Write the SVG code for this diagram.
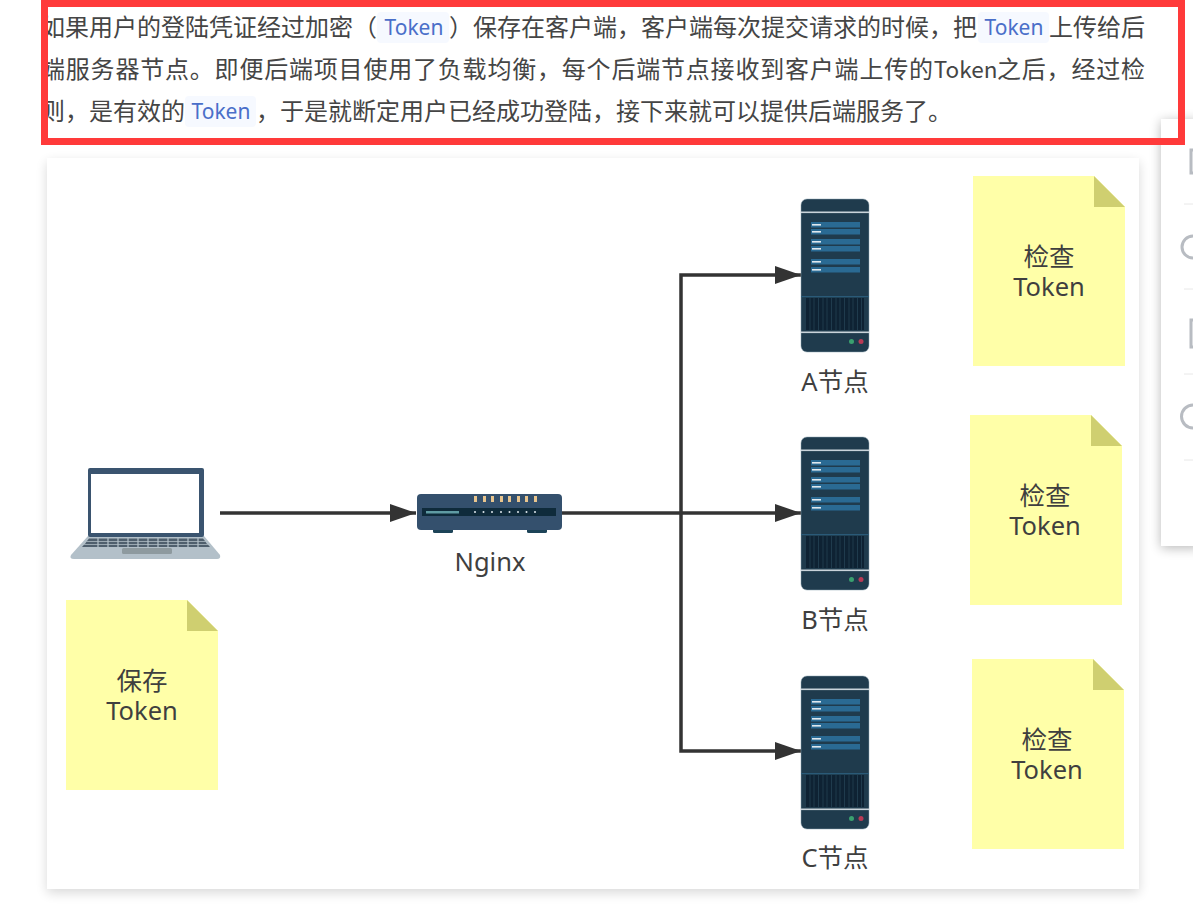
<svg xmlns="http://www.w3.org/2000/svg" width="1193" height="907" viewBox="0 0 1193 907">
<style>
.p{font:24px "Noto Sans CJK SC","Noto Sans",sans-serif;fill:#454545}
.j{letter-spacing:.8px}
.t{font-size:22.500px;letter-spacing:0}
.c{font:21px "Noto Sans","Noto Sans CJK SC",sans-serif;fill:#4a6fc9}
.cb{fill:#f6f9ff}
.l{font:25.500px "Noto Sans","Noto Sans CJK SC",sans-serif;fill:#3f3f3f;text-anchor:middle}
.note{fill:#ffffa8}
.fold{fill:#cfcf70}
.wire{fill:none;stroke:#333;stroke-width:3.500}
.div{stroke:#e8e8e8;stroke-width:1}
.ic{fill:none;stroke:#b8bcc2;stroke-width:3}
</style>
<defs>
<filter id="sh" x="-5%" y="-5%" width="110%" height="110%"><feGaussianBlur stdDeviation="6"/></filter>
<filter id="sh2" x="-100%" y="-5%" width="300%" height="110%"><feGaussianBlur stdDeviation="6"/></filter>
<marker id="arr" markerUnits="userSpaceOnUse" markerWidth="26" markerHeight="18" refX="26" refY="9" orient="auto"><path d="M0 0L26 9L0 18Z" fill="#333"/></marker>
<g id="srv">
<rect x="0" y="0" width="68" height="153" rx="6" fill="#1f3b4d" stroke="#8fa4b0" stroke-width=".5"/>
<rect x="0" y="12.500" width="68" height="1.600" fill="#c9d3da"/>
<rect x="0" y="132.500" width="68" height="1.600" fill="#c9d3da"/>
<rect x="0" y="97" width="68" height="1.200" fill="#2a5a78"/>
<g fill="#2a6a93"><rect x="10" y="23" width="49" height="5.500"/><rect x="10" y="30" width="49" height="5.500"/><rect x="10" y="40" width="49" height="5.500"/><rect x="10" y="47" width="49" height="5.500"/><rect x="10" y="60" width="49" height="5.500"/><rect x="10" y="68" width="49" height="5.500"/></g>
<g fill="#dfe8ee"><rect x="11" y="25" width="9" height="1.600"/><rect x="11" y="32" width="9" height="1.600"/><rect x="11" y="42" width="9" height="1.600"/><rect x="11" y="49" width="9" height="1.600"/><rect x="11" y="62" width="9" height="1.600"/><rect x="11" y="70" width="9" height="1.600"/></g>
<rect x="5" y="99" width="58" height="32" fill="#0e2233"/>
<path d="M9 99V131M13 99V131M17.500 99V131M22 99V131M26 99V131M30.500 99V131M35 99V131M39 99V131M43.500 99V131M48 99V131M52 99V131M56.500 99V131M60.500 99V131" stroke="#1f3b4d" stroke-width="1"/>
<circle cx="50.500" cy="142.500" r="2.500" fill="#3aa06f"/><circle cx="60" cy="142.500" r="2.500" fill="#b93a55"/>
</g>
<g id="fn"><path class="note" d="M0 0H121L152 31V190H0Z"/><path class="fold" d="M121 0L152 31H121Z"/></g>
</defs>
<rect width="1193" height="907" fill="#fff"/>
<g id="article">
<rect class="cb" x="377" y="12" width="72" height="31" rx="4"/>
<rect class="cb" x="978" y="12" width="71" height="31" rx="4"/>
<rect class="cb" x="185" y="96" width="71" height="31" rx="4"/>
<text class="p" x="41" y="36">如果用户的登陆凭证经过加密（</text>
<text class="c" x="384.500" y="35">Token</text>
<text class="p" x="449" y="36">）保存在客户端，客户端每次提交请求的时候，把</text>
<text class="c" x="984.500" y="35">Token</text>
<text class="p" x="1049" y="36">上传给后</text>
<text class="p j" x="41" y="78">端服务器节点。即便后端项目使用了负载均衡，每个后端节点接收到客户端上传的<tspan class="t">Token</tspan><tspan x="997">之后，经过检</tspan></text>
<text class="p" x="41" y="120">则，是有效的</text>
<text class="c" x="191.500" y="119">Token</text>
<text class="p" x="256" y="120">，于是就断定用户已经成功登陆，接下来就可以提供后端服务了。</text>
</g>
<g id="sidebar">
<rect x="1161" y="121" width="40" height="427" fill="#000" opacity=".28" filter="url(#sh2)"/>
<rect x="1161" y="119" width="32" height="427" fill="#fff"/>
<path class="div" d="M1184 204H1193M1184 289H1193M1184 374H1193M1184 460H1193"/>
<path class="ic" d="M1193 150H1191V173H1193M1193 236A11 11 0 0 0 1193 258M1193 320H1191V347H1193M1193 405A11 11 0 0 0 1193 428"/>
</g>
<rect id="card-shadow" x="47" y="162" width="1092" height="731" fill="#000" opacity=".15" filter="url(#sh)"/>
<rect id="card" x="47" y="158" width="1092" height="731" fill="#fff"/>
<rect id="highlight" x="44.500" y="3.500" width="1137" height="138" fill="none" stroke="#ff3a3a" stroke-width="7"/>
<g id="connectors">
<path class="wire" d="M220 513H416" marker-end="url(#arr)"/>
<path class="wire" d="M562 513H801" marker-end="url(#arr)"/>
<path class="wire" d="M681 513V275H801" marker-end="url(#arr)"/>
<path class="wire" d="M681 513V751H801" marker-end="url(#arr)"/>
</g>
<g id="laptop">
<path d="M88 536H204L220 555Q221 559 217 559H74Q69 559 71 555Z" fill="#b3c0c9"/>
<rect x="88" y="468" width="116" height="69" rx="2" fill="#3a546f"/>
<rect x="91" y="474" width="108" height="59" fill="#fff"/>
<path d="M89 538.500H203L205 541H87ZM86.500 541.800H205.500L207 544H85ZM84 544.800H208L210 547H82Z" fill="#4f5f6d"/>
<path d="M98 538V547M108 538V547M118 538V547M128 538V547M138 538V547M148 538V547M158 538V547M168 538V547M178 538V547M188 538V547M198 538V547" stroke="#b3c0c9" stroke-width="1.200"/>
<rect x="122" y="548" width="50" height="6" rx="1.500" fill="#8e9a9f"/>
</g>
<g id="nginx">
<rect x="433" y="528" width="20" height="5" rx="1.500" fill="#1d4458"/><rect x="527" y="528" width="20" height="5" rx="1.500" fill="#1d4458"/>
<rect x="417" y="494" width="145" height="36" rx="4" fill="#34506d"/>
<rect x="422" y="508" width="134" height="8" fill="#0f2b3b"/>
<rect x="426" y="511" width="33" height="2.500" fill="#5f9ba3"/>
<g fill="#e9c58e"><rect x="474" y="496" width="3" height="6"/><rect x="483" y="496" width="3" height="6"/><rect x="491" y="496" width="3" height="6"/><rect x="500" y="496" width="3" height="6"/><rect x="508" y="496" width="3" height="6"/><rect x="517" y="496" width="3" height="6"/><rect x="525" y="496" width="3" height="6"/><rect x="534" y="496" width="3" height="6"/></g>
<g fill="#dfe8ee"><circle cx="475" cy="512" r="1"/><circle cx="483.500" cy="512" r="1"/><circle cx="492" cy="512" r="1"/><circle cx="501" cy="512" r="1"/><circle cx="509.500" cy="512" r="1"/><circle cx="518" cy="512" r="1"/><circle cx="526.500" cy="512" r="1"/><circle cx="535" cy="512" r="1"/></g>
<text class="l" x="490" y="571">Nginx</text>
</g>
<g id="node-a"><use href="#srv" x="801" y="199"/><text class="l" x="835" y="391">A节点</text></g>
<g id="node-b"><use href="#srv" x="801" y="437"/><text class="l" x="835" y="629">B节点</text></g>
<g id="node-c"><use href="#srv" x="801" y="676"/><text class="l" x="835" y="867">C节点</text></g>
<g id="note-save"><use href="#fn" x="66" y="600"/><text class="l" x="142" y="690">保存</text><text class="l" x="142" y="720">Token</text></g>
<g id="note-a"><use href="#fn" x="973" y="176"/><text class="l" x="1049" y="266">检查</text><text class="l" x="1049" y="296">Token</text></g>
<g id="note-b"><use href="#fn" x="970" y="415"/><text class="l" x="1045" y="505">检查</text><text class="l" x="1045" y="535">Token</text></g>
<g id="note-c"><use href="#fn" x="972" y="659"/><text class="l" x="1047" y="749">检查</text><text class="l" x="1047" y="779">Token</text></g>
</svg>
